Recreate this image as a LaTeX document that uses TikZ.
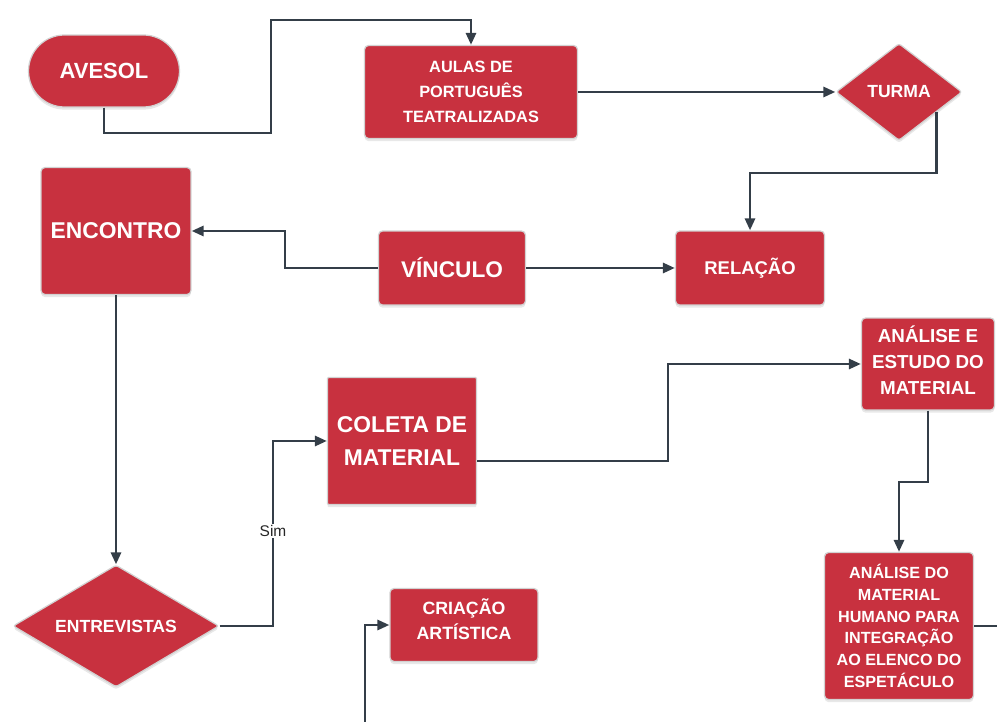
\documentclass[tikz,border=0pt]{standalone}
\usepackage{fontspec}
\setmainfont{Liberation Sans}
\usetikzlibrary{shapes.geometric,arrows.meta,shadows}
\definecolor{boxred}{HTML}{C8313F}
\definecolor{linegray}{HTML}{343E48}
\definecolor{edgegray}{HTML}{D2D2D2}
\begin{document}
\begin{tikzpicture}[x=0.02cm, y=-0.02cm,
    caixa/.style={rectangle, rounded corners=0.08cm, fill=boxred, draw=edgegray, line width=0.7pt,
        text=white, align=center, inner sep=0pt,
        drop shadow={shadow xshift=0pt, shadow yshift=-1.5pt, opacity=0.18}},
    losango/.style={caixa, diamond, shape aspect=2, rounded corners=0.05cm},
    seta/.style={draw=linegray, line width=1.6pt, -{Triangle[length=0.24cm, width=0.2cm]}},
    linha/.style={draw=linegray, line width=1.6pt}]
    \useasboundingbox (0,0) rectangle (997,722);
    % caixas
    \node[caixa, rounded corners=0.72cm, minimum width=3.02cm, minimum height=1.44cm,
        font=\fontsize{12.5}{15}\selectfont\bfseries] (avesol) at (104,71) {AVESOL};
    \node[caixa, minimum width=4.26cm, minimum height=1.86cm,
        font=\fontsize{9.3}{14.2}\selectfont\bfseries] (aulas) at (471,92) {AULAS DE\\PORTUGUÊS\\TEATRALIZADAS};
    \node[losango, minimum width=2.52cm, minimum height=1.94cm,
        font=\fontsize{10}{12}\selectfont\bfseries] (turma) at (899,92) {TURMA};
    \node[caixa, minimum width=3cm, minimum height=2.54cm,
        font=\fontsize{13}{16}\selectfont\bfseries] (encontro) at (116,231) {ENCONTRO};
    \node[caixa, minimum width=2.94cm, minimum height=1.48cm,
        font=\fontsize{12.9}{16}\selectfont\bfseries] (vinculo) at (452,268) {VÍNCULO};
    \node[caixa, minimum width=2.98cm, minimum height=1.48cm,
        font=\fontsize{10.5}{13}\selectfont\bfseries] (relacao) at (750,268) {RELAÇÃO};
    \node[caixa, minimum width=2.66cm, minimum height=1.84cm, text depth=4.5pt,
        font=\fontsize{10.7}{14.7}\selectfont\bfseries] (analise) at (928,364) {ANÁLISE E\\ESTUDO DO\\MATERIAL};
    \node[caixa, rounded corners=0.02cm, minimum width=2.98cm, minimum height=2.54cm,
        font=\fontsize{13}{19.3}\selectfont\bfseries] (coleta) at (402,441) {COLETA DE\\MATERIAL};
    \node[losango, minimum width=4.12cm, minimum height=2.44cm,
        font=\fontsize{10}{12}\selectfont\bfseries] (entrevistas) at (116,626) {ENTREVISTAS};
    \node[caixa, minimum width=2.96cm, minimum height=1.46cm, text depth=7pt,
        font=\fontsize{10.1}{14.2}\selectfont\bfseries] (criacao) at (464,625) {CRIAÇÃO\\ARTÍSTICA};
    \node[caixa, minimum width=2.98cm, minimum height=2.94cm,
        font=\fontsize{9.2}{12.4}\selectfont\bfseries] (humano) at (899,626)
        {ANÁLISE DO\\MATERIAL\\HUMANO PARA\\INTEGRAÇÃO\\AO ELENCO DO\\ESPETÁCULO};
    % pontas soltas
    \coordinate (saida) at (1000,626);
    \coordinate (entrada) at (365,726);
    % conectores
    \draw[seta] (avesol.south) |- (271,133) -- (271,20) -| (aulas.north);
    \draw[seta] (aulas.east) -- (turma.west);
    \draw[seta] (turma.-28) |- (750,173) -- (relacao.north);
    \draw[seta] (vinculo.west) -| (285,231) -- (encontro.east);
    \draw[seta] (vinculo.east) -- (relacao.west);
    \draw[seta] (encontro.south) -- (entrevistas.north);
    \draw[seta] (entrevistas.east) -| (273,441) -- (coleta.west);
    \draw[seta] ([yshift=-0.4cm]coleta.east) -| (668,364) -- (analise.west);
    \draw[seta] (analise.south) |- (899,482) -- (humano.north);
    \draw[linha] (humano.east) -- (saida);
    \draw[seta] (entrada) |- (criacao.west);
    \node[fill=white, inner sep=1pt, text=black!85, font=\fontsize{8.8}{10}\selectfont] (sim) at (273,531) {Sim};
\end{tikzpicture}
\end{document}
